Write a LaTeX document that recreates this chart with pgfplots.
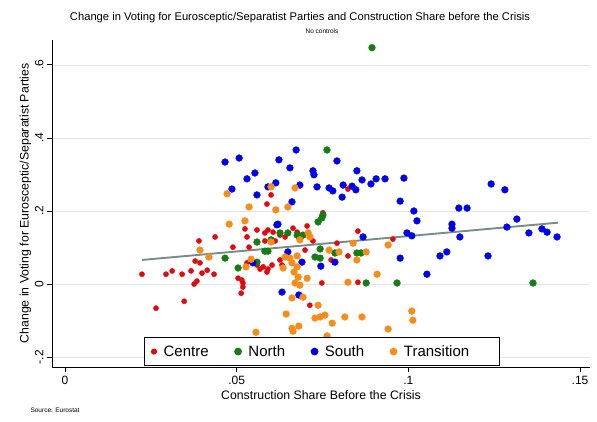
\documentclass[border=0pt]{standalone}
\usepackage{fontspec}
\setmainfont{Liberation Sans}
\usepackage{pgfplots}
\pgfplotsset{compat=1.18}
\definecolor{ctr}{RGB}{225,10,15}
\definecolor{nrt}{RGB}{20,125,20}
\definecolor{sth}{RGB}{0,0,235}
\definecolor{trn}{RGB}{248,140,25}
\definecolor{fitc}{RGB}{120,140,138}

\begin{document}
\begin{tikzpicture}
\useasboundingbox (0pt,0pt) rectangle (597pt,421pt);
\begin{axis}[
  at={(52pt,54pt)}, anchor=south west, scale only axis,
  width=538pt, height=327pt,
  xmin=-0.0038, xmax=0.1529, ymin=-0.227, ymax=0.668,
  axis lines*=left, axis line style={line width=0.9pt},
  xtick={0,0.05,0.1,0.15}, xticklabels={0,.05,.1,.15},
  ytick={-0.2,0,0.2,0.4,0.6}, yticklabels={-.2,0,.2,.4,.6},
  yticklabel style={rotate=90, anchor=south},
  tick align=outside, major tick length=5pt,
  tick style={line width=0.8pt, black},
  ymajorgrids, grid style={black!10, line width=0.6pt},
  tick label style={font=\fontsize{12}{14}\selectfont},
  xticklabel style={yshift=-1pt},
  xlabel={Construction Share Before the Crisis},
  ylabel={Change in Voting for Eurosceptic/Separatist Parties},
  label style={font=\fontsize{12.3}{14}\selectfont},
  xlabel style={yshift=1pt},
  ylabel style={yshift=-3pt},
  legend columns=4,
  legend style={at={(0.171,0.004)}, anchor=south west, draw=black, line width=0.9pt,
    font=\fontsize{15}{17}\selectfont, inner xsep=7pt, inner ysep=5.5pt,
    /tikz/every odd column/.append style={column sep=5pt},
    /tikz/every even column/.append style={column sep=24pt}},
]
% Centre
\addplot[only marks, mark=*, mark size=2.6pt, ctr] coordinates {
(0.0390,0.118) (0.0379,0.063) (0.0393,0.058) (0.0367,0.036) (0.0341,0.027)
(0.0312,0.036) (0.0294,0.027) (0.0224,0.027) (0.0399,0.030) (0.0414,0.038)
(0.0384,0.008) (0.0376,0.000) (0.0347,-0.047) (0.0265,-0.066) (0.0437,0.129)
(0.0434,0.027) (0.0489,0.101) (0.0524,0.151) (0.0530,0.129) (0.0559,0.148)
(0.0582,0.140) (0.0606,0.142) (0.0582,0.118) (0.0612,0.118) (0.0536,0.101)
(0.0504,0.016) (0.0515,0.011) (0.0518,-0.008) (0.0513,-0.025) (0.0588,0.219)
(0.0530,0.058) (0.0559,0.052) (0.0577,0.047) (0.0588,0.033) (0.0603,0.052)
(0.0632,0.052) (0.0626,0.066) (0.0713,-0.058) (0.0641,0.129) (0.0676,0.142)
(0.0591,0.148) (0.0626,0.134) (0.0664,0.153) (0.0591,0.041) (0.0568,0.041)
(0.0518,0.003) (0.0751,0.195) (0.0705,0.159) (0.0690,0.134) (0.0722,0.118)
(0.0699,0.093) (0.0853,0.145) (0.0955,0.123) (0.0792,0.112) (0.0824,0.077)
(0.0775,0.066) (0.0748,0.003) (0.0853,0.005) (0.0824,0.260) (0.0600,0.244)
};
\addlegendentry{Centre}
% North
\addplot[only marks, mark=*, mark size=3.4pt, nrt] coordinates {
(0.0763,0.367) (0.0894,0.647) (0.1363,0.003) (0.0737,0.170) (0.0748,0.181)
(0.0751,0.189) (0.0743,0.096) (0.0728,0.074) (0.0743,0.071) (0.0786,0.085)
(0.0850,0.085) (0.0862,0.085) (0.0877,0.003) (0.0967,0.003) (0.0559,0.115)
(0.0600,0.121) (0.0626,0.140) (0.0649,0.140) (0.0676,0.134) (0.0582,0.090)
(0.0591,0.090) (0.0466,0.071) (0.0504,0.044) (0.0559,0.060) (0.0693,0.134)
(0.0684,0.126)
};
\addlegendentry{North}
% South
\addplot[only marks, mark=*, mark size=3.4pt, sth] coordinates {
(0.0466,0.334) (0.0507,0.345) (0.0623,0.340) (0.0673,0.367) (0.0655,0.318)
(0.0553,0.304) (0.0530,0.288) (0.0614,0.277) (0.0591,0.266) (0.0486,0.260)
(0.0559,0.244) (0.0684,0.271) (0.0661,0.225) (0.0620,0.164) (0.0722,0.310)
(0.0725,0.299) (0.0734,0.266) (0.0792,0.337) (0.0769,0.263) (0.0780,0.255)
(0.0807,0.238) (0.0810,0.271) (0.0836,0.268) (0.0847,0.258) (0.0850,0.310)
(0.0865,0.285) (0.0891,0.274) (0.0906,0.288) (0.0932,0.288) (0.0987,0.290)
(0.0976,0.227) (0.1016,0.200) (0.1025,0.173) (0.1147,0.208) (0.1171,0.208)
(0.1127,0.164) (0.1127,0.153) (0.1241,0.274) (0.1281,0.258) (0.1316,0.178)
(0.1287,0.156) (0.1351,0.140) (0.1389,0.151) (0.1404,0.142) (0.1433,0.129)
(0.1150,0.129) (0.0996,0.140) (0.1010,0.132) (0.0868,0.129) (0.1232,0.077)
(0.1112,0.088) (0.1092,0.077) (0.1054,0.027) (0.0976,0.071) (0.0786,0.060)
(0.0745,0.049) (0.0690,0.060) (0.0617,0.162) (0.0547,0.058) (0.0649,0.088)
(0.0632,-0.022) (0.0681,-0.030)
};
\addlegendentry{South}
% Transition
\addplot[only marks, mark=*, mark size=3.4pt, trn] coordinates {
(0.0472,0.247) (0.0600,0.266) (0.0670,0.263) (0.0536,0.211) (0.0614,0.203)
(0.0649,0.211) (0.0478,0.164) (0.0524,0.173) (0.0393,0.093) (0.0419,0.074)
(0.0527,0.047) (0.0542,0.068) (0.0600,0.115) (0.0684,0.121) (0.0641,0.074)
(0.0655,0.071) (0.0676,0.077) (0.0661,0.058) (0.0676,0.047) (0.0667,0.033)
(0.0679,0.019) (0.0670,0.003) (0.0684,-0.003) (0.0705,0.016) (0.0661,-0.038)
(0.0693,-0.036) (0.0644,-0.082) (0.0661,-0.121) (0.0681,-0.115) (0.0556,-0.132)
(0.0708,0.140) (0.0713,0.129) (0.0737,-0.058) (0.0743,-0.090) (0.0728,-0.093)
(0.0757,-0.085) (0.0778,-0.107) (0.0815,-0.090) (0.0865,-0.090) (0.0909,0.027)
(0.0824,0.005) (0.0769,0.093) (0.0798,0.088) (0.0839,0.112) (0.0850,0.066)
(0.0877,0.088) (0.0941,0.107) (0.1010,-0.074) (0.1013,-0.099) (0.0941,-0.123)
(0.0763,-0.142) (0.0664,-0.129) (0.0635,0.044)
};
\addlegendentry{\makebox[86pt][l]{Transition}}
% linear fit
\addplot[fitc, line width=1.9pt, forget plot] coordinates {(0.0224,0.066) (0.1436,0.168)};
\end{axis}
\node[font=\fontsize{11.2}{13}\selectfont] at (300pt,403pt) {Change in Voting for Eurosceptic/Separatist Parties and Construction Share before the Crisis};
\node[font=\fontsize{6.5}{8}\selectfont] at (322pt,390pt) {No controls};
\node[font=\fontsize{6.5}{8}\selectfont, anchor=west] at (27pt,11pt) {Source: Eurostat};
\end{tikzpicture}
\end{document}
